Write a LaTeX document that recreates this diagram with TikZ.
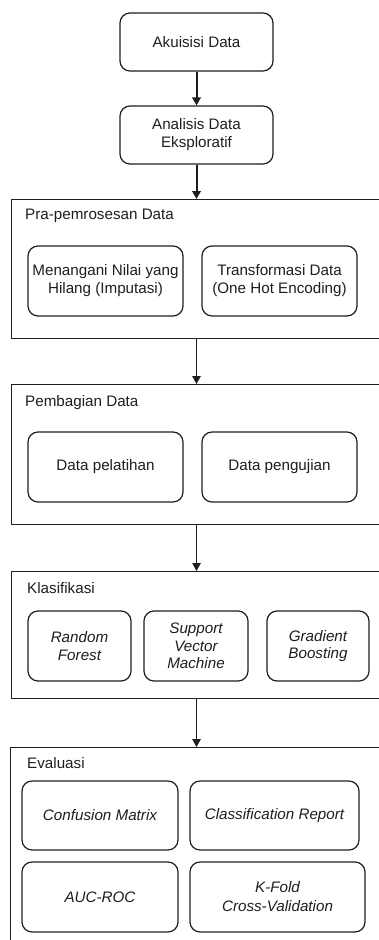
\documentclass[tikz,border=0pt]{standalone}
\usepackage{fontspec}
\setmainfont{Liberation Sans}
\usetikzlibrary{arrows.meta}
\definecolor{ink}{HTML}{1E1E1E}
\tikzset{
  every node/.style={font=\fontsize{15.2}{18}\selectfont, text=ink},
  stepbox/.style={draw=ink, line width=1.2pt, rounded corners=10pt, align=center,
                  inner sep=0pt},
  italicbox/.style={stepbox, font=\fontsize{15.2}{17.5}\selectfont\itshape},
  group/.style={draw=ink, line width=1.2pt, anchor=north west, inner sep=0pt},
  grouptitle/.style={anchor=west, inner sep=0pt},
  flow/.style={draw=ink, line width=1.2pt, -{Triangle[length=8pt,width=8.5pt]}},
  thickflow/.style={flow, line width=2pt}
}
\begin{document}
\begin{tikzpicture}[x=1pt,y=-1pt]
\useasboundingbox (0,0) rectangle (379,940);
\clip (0,0) rectangle (379,940);

% top steps
\node[stepbox, minimum width=153pt, minimum height=58pt] (akuisisi) at (196.5,42) {Akuisisi Data};
\node[stepbox, minimum width=153pt, minimum height=58pt] (eda) at (196.5,135) {Analisis Data\\Eksploratif};

% Pra-pemrosesan Data
\node[group, minimum width=380pt, minimum height=139pt] (pra) at (11,199) {};
\node[grouptitle] (praT) at (25,216) {Pra-pemrosesan Data};
\node[stepbox, minimum width=155pt, minimum height=70pt] (imputasi) at (105.5,281) {Menangani Nilai yang\\Hilang (Imputasi)};
\node[stepbox, minimum width=155pt, minimum height=70pt] (ohe) at (279.5,281) {Transformasi Data\\(One Hot Encoding)};

% Pembagian Data
\node[group, minimum width=380pt, minimum height=140pt] (bagi) at (11,384) {};
\node[grouptitle] (bagiT) at (25,403) {Pembagian Data};
\node[stepbox, minimum width=155pt, minimum height=70pt] (latih) at (105.5,467) {Data pelatihan};
\node[stepbox, minimum width=155pt, minimum height=70pt] (uji) at (279.5,467) {Data pengujian};

% Klasifikasi
\node[group, minimum width=380pt, minimum height=127pt] (klas) at (11,571) {};
\node[grouptitle] (klasT) at (27,588) {Klasifikasi};
\node[italicbox, minimum width=103pt, minimum height=70pt] (rf) at (79.5,646) {Random\\Forest};
\node[italicbox, minimum width=104pt, minimum height=70pt] (svm) at (196,646) {Support\\Vector\\Machine};
\node[italicbox, minimum width=102pt, minimum height=70pt] (gb) at (318,646) {Gradient\\Boosting};

% Evaluasi
\node[group, minimum width=380pt, minimum height=220pt] (eval) at (10,747) {};
\node[grouptitle] (evalT) at (27,763) {Evaluasi};
\node[italicbox, minimum width=156pt, minimum height=69pt] (cm) at (100,815.5) {Confusion Matrix};
\node[italicbox, minimum width=169pt, minimum height=69pt] (cr) at (274.5,815.5) {Classification Report};
\node[italicbox, minimum width=156pt, minimum height=70pt] (auc) at (100,897) {AUC-ROC};
\node[italicbox, minimum width=175pt, minimum height=70pt, font=\fontsize{15.2}{19}\selectfont\itshape] (kfold) at (277.5,897) {K-Fold\\Cross-Validation};

% connectors
\draw[thickflow] (akuisisi) -- (eda);
\draw[thickflow] (eda.south) -- (eda.south |- pra.north);
\draw[flow] (pra.south -| eda.south) -- (eda.south |- bagi.north);
\draw[flow] (bagi.south -| eda.south) -- (eda.south |- klas.north);
\draw[flow] (klas.south -| eda.south) -- (eda.south |- eval.north);
\end{tikzpicture}
\end{document}
